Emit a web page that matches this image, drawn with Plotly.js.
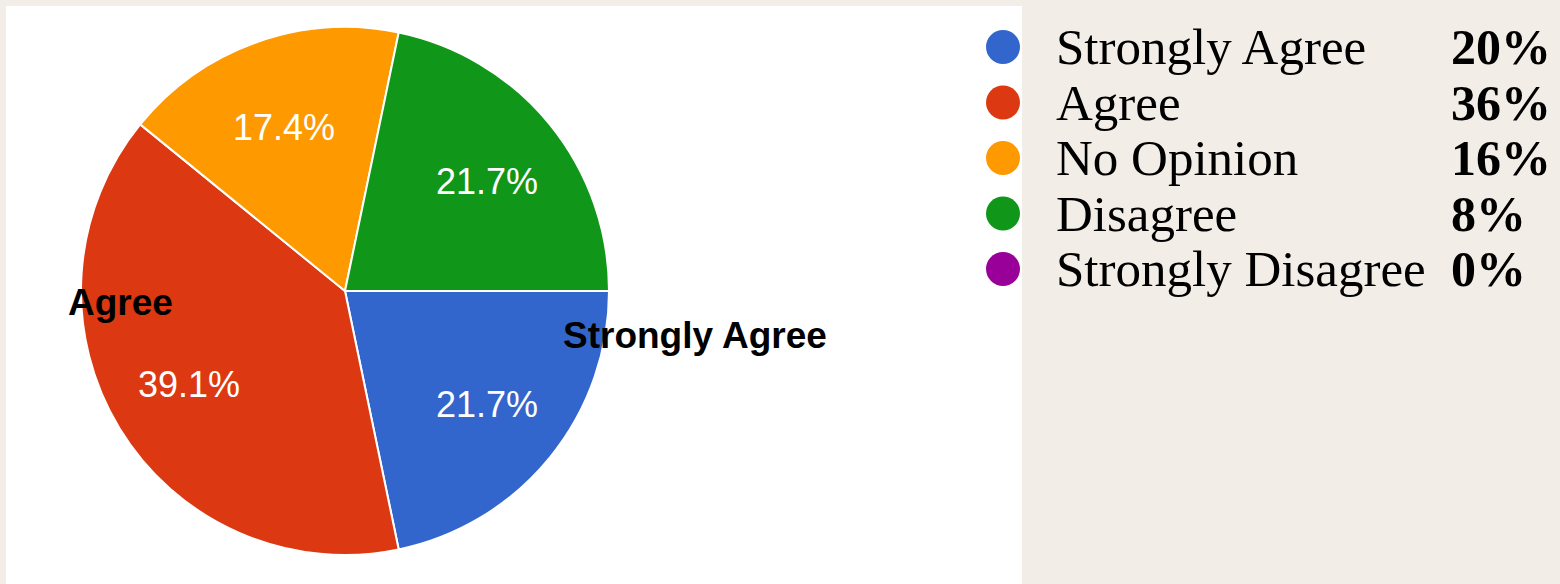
<!DOCTYPE html>
<html><head><meta charset="utf-8">
<script src="https://cdn.plot.ly/plotly-3.0.1.min.js"></script>
<style>html,body{margin:0;padding:0;background:#f2ede6;overflow:hidden;} #chart{width:1560px;height:584px;}</style>
</head><body><div id="chart"></div>
<script>
// ---- data ----
const categories = ['Strongly Agree', 'Agree', 'No Opinion', 'Disagree'];
const counts = [5, 9, 4, 5];
const sliceColors = ['#3366cc', '#dc3912', '#ff9900', '#109618'];
const calloutLabels = ['Strongly Agree', 'Agree'];
const legendLabels = ['Strongly Agree', 'Agree', 'No Opinion', 'Disagree', 'Strongly Disagree'];
const legendPercents = ['20%', '36%', '16%', '8%', '0%'];
const legendColors = ['#3366cc', '#dc3912', '#ff9900', '#109618', '#990099'];

// ---- layout helpers (pixel -> paper) ----
const W = 1560, H = 584;
const px = x => x / W;
const py = y => 1 - y / H;

const pieCx = 345, pieCy = 291, pieR = 264;
const startDeg = 0; // slices start at 3 o'clock, go clockwise

const trace = {
  type: 'pie',
  labels: categories,
  values: counts,
  sort: false,
  direction: 'clockwise',
  rotation: 90 + startDeg,
  marker: { colors: sliceColors, line: { color: '#ffffff', width: 2 } },
  textinfo: 'none',
  hoverinfo: 'none',
  showlegend: false,
  domain: { x: [px(pieCx - pieR), px(pieCx + pieR)], y: [py(pieCy + pieR), py(pieCy - pieR)] }
};

const shapes = [{
  type: 'rect', xref: 'paper', yref: 'paper', layer: 'below',
  x0: px(6), x1: px(1022), y0: py(584), y1: py(6),
  fillcolor: '#ffffff', line: { width: 0 }
}];

const annotations = [];

// percentage labels inside slices, placed along each slice's mid-angle
const total = counts.reduce((a, b) => a + b, 0);
let acc = 0;
counts.forEach((v, i) => {
  const mid = (startDeg + (acc + v / 2) / total * 360) * Math.PI / 180;
  acc += v;
  const lx = pieCx + 183 * Math.cos(mid);
  const ly = pieCy + 2 + 176 * Math.sin(mid);
  annotations.push({
    xref: 'paper', yref: 'paper', x: px(lx), y: py(ly),
    xanchor: 'center', yanchor: 'middle', showarrow: false,
    text: (v / total * 100).toFixed(1) + '%',
    font: { family: 'Liberation Sans, Arial, sans-serif', size: 36, color: '#ffffff' }
  });
});

// callout labels on the pie
const calloutPos = { 'Strongly Agree': [563, 335], 'Agree': [68, 302] };
calloutLabels.forEach(l => {
  const p = calloutPos[l];
  annotations.push({
    xref: 'paper', yref: 'paper', x: px(p[0] - 2), y: py(p[1]),
    xanchor: 'left', yanchor: 'middle', showarrow: false,
    text: '<b>' + l + '</b>',
    font: { family: 'Liberation Sans, Arial, sans-serif', size: 37, color: '#000000' }
  });
});

// side legend
const rowY0 = 47, rowStep = 55.5;
legendLabels.forEach((l, i) => {
  const cy = rowY0 + i * rowStep;
  shapes.push({
    type: 'circle', xref: 'paper', yref: 'paper',
    x0: px(986), x1: px(1020), y0: py(cy + 17), y1: py(cy - 17),
    fillcolor: legendColors[i], line: { width: 0 }
  });
  annotations.push({
    xref: 'paper', yref: 'paper', x: px(1054), y: py(cy),
    xanchor: 'left', yanchor: 'middle', showarrow: false,
    text: l,
    font: { family: 'Liberation Serif, Times New Roman, serif', size: 51, color: '#000000' }
  });
  annotations.push({
    xref: 'paper', yref: 'paper', x: px(1449), y: py(cy),
    xanchor: 'left', yanchor: 'middle', showarrow: false,
    text: '<b>' + legendPercents[i] + '</b>',
    font: { family: 'Liberation Serif, Times New Roman, serif', size: 50, color: '#000000' }
  });
});

const layout = {
  width: W, height: H,
  margin: { l: 0, r: 0, t: 0, b: 0 },
  paper_bgcolor: '#f2ede6',
  plot_bgcolor: '#f2ede6',
  showlegend: false,
  shapes: shapes,
  annotations: annotations
};

Plotly.newPlot('chart', [trace], layout, { displayModeBar: false, staticPlot: true });
</script>
</body></html>
